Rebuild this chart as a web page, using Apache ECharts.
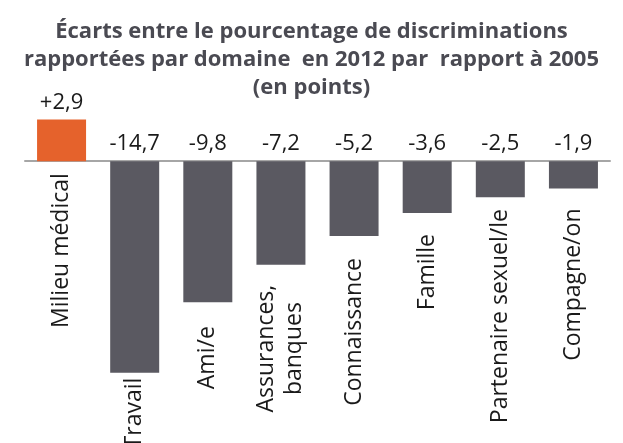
<!DOCTYPE html>
<html>
<head>
<meta charset="utf-8">
<script src="https://cdn.jsdelivr.net/npm/echarts@6/dist/echarts.min.js"></script>
<style>html,body{margin:0;padding:0;background:#fff}#chart{width:623px;height:443px}</style>
</head>
<body>
<div id="chart"></div>
<script>
var titleText = "Écarts entre le pourcentage de discriminations\nrapportées par domaine  en 2012 par  rapport à 2005\n(en points)";
var categories = ["Milieu médical", "Travail", "Ami/e", "Assurances,\nbanques", "Connaissance", "Famille", "Partenaire sexuel/le", "Compagne/on"];
var values = [2.9, -14.7, -9.8, -7.2, -5.2, -3.6, -2.5, -1.9];

// style: gap between bar end and its rotated category label (px)
var labelGaps = [12, 5, 24, 20, 22, 21, 12, 20];

function fmt(v) {
  var s = Math.abs(v).toFixed(1).replace('.', ',');
  return (v > 0 ? '+' : '-') + s;
}

var chart = echarts.init(document.getElementById('chart'));
chart.setOption({
  animation: false,
  backgroundColor: '#ffffff',
  title: {
    text: titleText,
    left: 'center',
    top: 13,
    textStyle: {
      fontFamily: 'Open Sans',
      fontWeight: 'bold',
      fontSize: 22,
      lineHeight: 28,
      color: '#4a4a52'
    }
  },
  grid: { left: 25, right: 13, top: 118, height: 259, containLabel: false },
  xAxis: {
    type: 'category',
    data: categories,
    axisLine: { show: true, onZero: true, lineStyle: { color: '#a6a6a6', width: 2 } },
    axisTick: { show: false },
    axisLabel: { show: false },
    splitLine: { show: false }
  },
  yAxis: {
    type: 'value',
    min: -15,
    max: 3,
    show: false,
    splitLine: { show: false }
  },
  series: [
    {
      type: 'bar',
      barWidth: 49,
      silent: true,
      data: values.map(function (v, i) {
        return {
          value: v,
          itemStyle: { color: v > 0 ? '#e5622c' : '#5a5961' },
          label: { distance: labelGaps[i] }
        };
      }),
      label: {
        show: true,
        position: 'bottom',
        rotate: 90,
        align: 'right',
        verticalAlign: 'middle',
        formatter: function (p) {
          return p.name.split('\n').map(function (t) { return '{c|' + t + '}'; }).join('\n');
        },
        rich: {
          c: {
            align: 'center',
            fontFamily: 'Open Sans',
            fontSize: 23,
            lineHeight: 28,
            color: '#1a1a1a'
          }
        }
      }
    },
    {
      type: 'bar',
      barWidth: 49,
      barGap: '-100%',
      silent: true,
      itemStyle: { color: 'rgba(0,0,0,0)' },
      data: values.map(function (v) { return Math.max(v, 0); }),
      label: {
        show: true,
        position: 'top',
        distance: 6,
        fontFamily: 'Open Sans',
        fontSize: 22,
        color: '#1a1a1a',
        formatter: function (p) { return fmt(values[p.dataIndex]); }
      }
    }
  ]
});
</script>
</body>
</html>
